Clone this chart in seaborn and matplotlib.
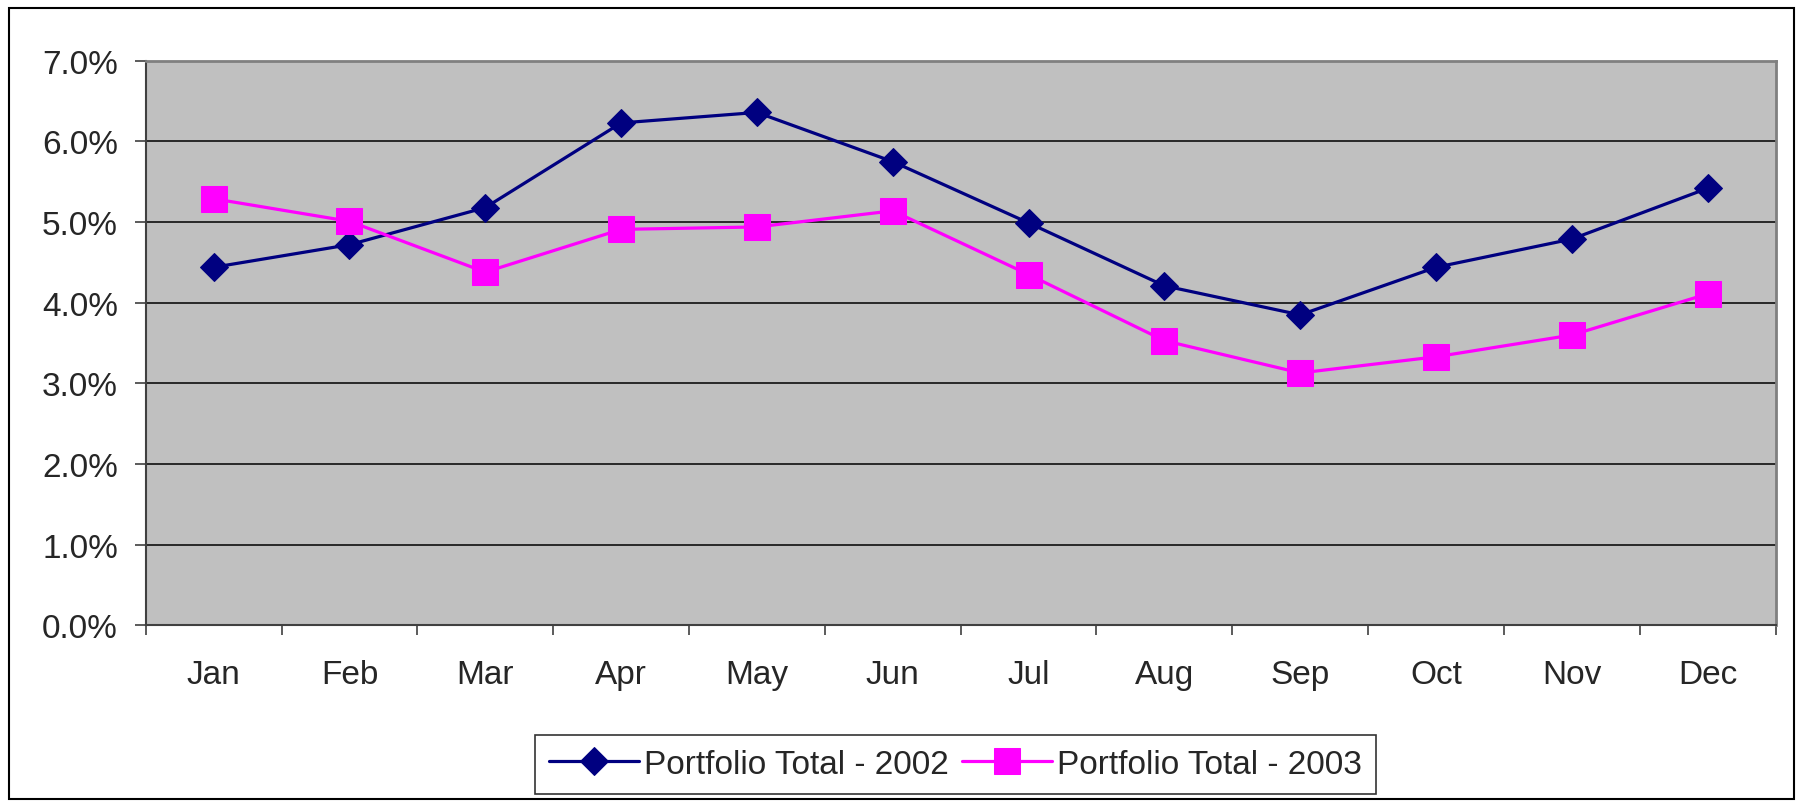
import matplotlib
matplotlib.use("Agg")
import matplotlib.pyplot as plt
import seaborn as sns
import pandas as pd
import numpy as np
from matplotlib.patches import Rectangle
from matplotlib.ticker import FuncFormatter, FixedLocator

months = ["Jan", "Feb", "Mar", "Apr", "May", "Jun", "Jul", "Aug", "Sep", "Oct", "Nov", "Dec"]
total_2002 = [4.44, 4.72, 5.18, 6.23, 6.36, 5.75, 4.99, 4.21, 3.85, 4.44, 4.79, 5.42]
total_2003 = [5.29, 5.01, 4.38, 4.91, 4.94, 5.14, 4.35, 3.53, 3.13, 3.33, 3.60, 4.11]
series_names = ["Portfolio Total - 2002", "Portfolio Total - 2003"]
y_ticks = [0, 1, 2, 3, 4, 5, 6, 7]

df = pd.DataFrame({
    "Month": months * 2,
    "pos": list(range(len(months))) * 2,
    "Value": total_2002 + total_2003,
    "Series": [series_names[0]] * len(months) + [series_names[1]] * len(months),
})

sns.set_style("white")
plt.rcParams["font.family"] = ["Liberation Sans", "DejaVu Sans"]

fig = plt.figure(figsize=(17.99, 8.03), dpi=100)
ax = fig.add_axes([0.081, 0.22, 0.906, 0.703])
ax.set_facecolor("#C0C0C0")

palette = {series_names[0]: "#000080", series_names[1]: "#FF00FF"}
markers = {series_names[0]: "D", series_names[1]: "s"}
sizes_m = {series_names[0]: 14, series_names[1]: 18.5}

for name in series_names:
    sub = df[df["Series"] == name]
    sns.lineplot(data=sub, x="pos", y="Value", ax=ax, color=palette[name],
                 marker=markers[name], markersize=sizes_m[name],
                 markeredgecolor=palette[name], linewidth=2.3, label=name,
                 legend=False, zorder=3)

ax.set_xlim(-0.5, len(months) - 0.5)
ax.set_ylim(0, 7)
ax.set_xlabel("")
ax.set_ylabel("")

ax.set_yticks(y_ticks)
ax.yaxis.set_major_formatter(FuncFormatter(lambda v, p: f"{v:.1f}%"))
ax.grid(axis="y", color="#000000", linewidth=1.1, zorder=1)
ax.grid(axis="x", visible=False)

ax.set_xticks(range(len(months)))
ax.set_xticklabels(months)
ax.xaxis.set_minor_locator(FixedLocator(np.arange(-0.5, len(months), 1.0)))
ax.tick_params(axis="x", which="major", length=0, pad=24, labelsize=24)
ax.tick_params(axis="x", which="minor", length=7.5, width=1.2, color="#404040", direction="out", bottom=True)
ax.tick_params(axis="y", which="major", length=8, width=1.2, color="#404040", direction="out", left=True, labelsize=24, pad=12)

for side in ["left", "bottom"]:
    ax.spines[side].set_color("#404040")
    ax.spines[side].set_linewidth(1.5)
for side in ["top", "right"]:
    ax.spines[side].set_visible(True)
    ax.spines[side].set_color("#808080")
    ax.spines[side].set_linewidth(2)

handles, labels = ax.get_legend_handles_labels()
leg = fig.legend(handles, labels, loc="center", bbox_to_anchor=(0.531, 0.047), ncol=2,
                 frameon=True, fancybox=False, fontsize=24, handlelength=2.7,
                 handletextpad=0.15, columnspacing=0.4, borderpad=0.42, borderaxespad=0)
leg.get_frame().set_edgecolor("#000000")
leg.get_frame().set_linewidth(1.2)

fig.patches.append(Rectangle((0.005, 0.004), 0.992, 0.985, transform=fig.transFigure,
                             fill=False, edgecolor="#000000", linewidth=1.5))

fig.savefig("out.png", dpi=100, facecolor="white")
